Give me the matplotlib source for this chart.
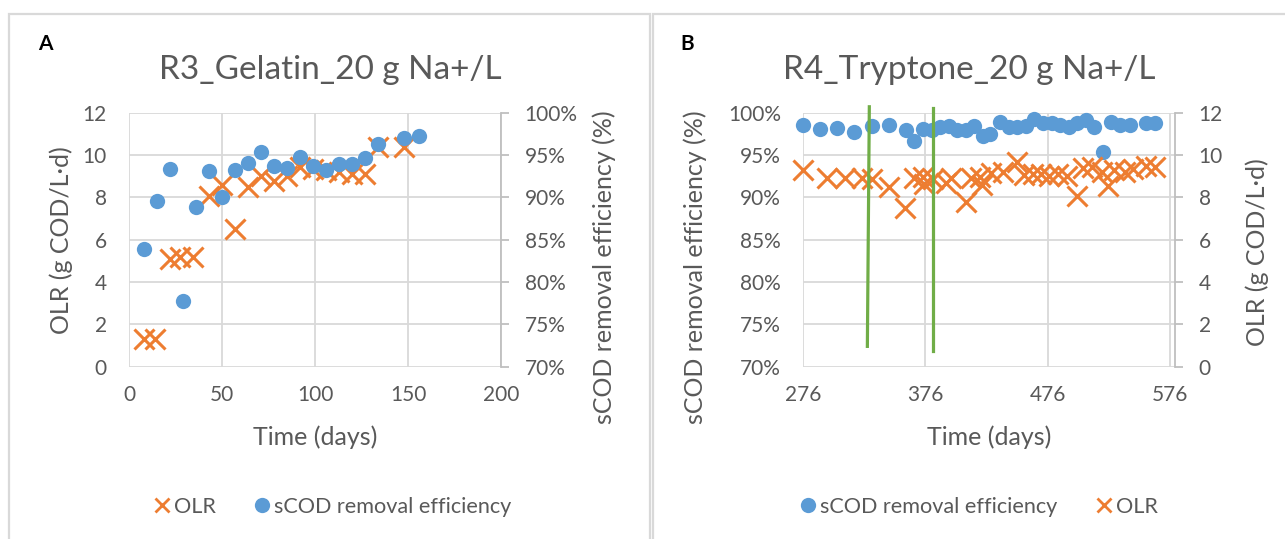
import matplotlib.pyplot as plt
from matplotlib.lines import Line2D
from matplotlib.patches import Rectangle
from matplotlib.ticker import FuncFormatter

# R3 gelatin reactor
r3_olr_days = [8, 14, 22, 27.5, 34.5, 43, 50, 57, 64, 71, 78, 85, 92, 99, 106, 113, 120, 127, 134, 148]
r3_olr = [1.3, 1.3, 5.1, 5.2, 5.2, 8.05, 8.6, 6.5, 8.5, 9.0, 8.75, 9.0, 9.45, 9.35, 9.3, 9.2, 9.1, 9.1, 10.4, 10.4]
r3_eff_days = [8, 15, 22, 29, 36, 43, 50, 57, 64, 71, 78, 85, 92, 99, 106, 113, 120, 127, 134, 148, 156]
r3_eff = [83.9, 89.6, 93.3, 77.8, 88.9, 93.1, 90.0, 93.2, 94.1, 95.3, 93.7, 93.5, 94.8, 93.7,
          93.2, 93.9, 93.9, 94.6, 96.3, 97.0, 97.3]

# R4 tryptone reactor
r4_eff_days = [276, 290, 304, 318, 332, 346, 360, 367, 374, 381.5, 388, 395, 402, 409, 416, 423,
               429, 437, 444, 451, 458, 465, 472, 479.5, 486, 493, 500, 507, 514, 521, 528,
               535, 543, 556, 564]
r4_eff = [98.55, 98.05, 98.25, 97.7, 98.45, 98.5, 97.95, 96.6, 98.05, 97.9, 98.35, 98.45, 97.95,
          97.95, 98.4, 97.3, 97.45, 98.95, 98.35, 98.3, 98.45, 99.2, 98.75, 98.8, 98.6, 98.35,
          98.8, 99.1, 98.3, 95.3, 98.95, 98.55, 98.6, 98.75, 98.75]
r4_olr_days = [276, 296, 310, 324, 332, 346, 359, 366.5, 374, 374.5, 382, 393, 397, 409, 413, 421,
               422.6, 430, 439.5, 451, 457, 464, 470.5, 477, 484, 492, 500, 505, 512, 520, 525,
               530, 539, 546, 556, 564]
r4_olr = [9.3, 8.9, 8.9, 8.9, 8.85, 8.5, 7.5, 8.9, 8.95, 8.65, 8.85, 8.7, 8.9, 7.8, 8.9, 8.95,
          8.6, 9.15, 9.2, 9.65, 9.05, 9.1, 9.1, 9.0, 9.1, 9.0, 8.05, 9.4, 9.45, 9.2, 8.55,
          9.3, 9.2, 9.35, 9.5, 9.45]

# green marker lines (day, efficiency %)
mark1_days = [330.2, 328.6]
mark2_days = [381.9, 381.9]
mark1_eff = [100.7, 72.4]
mark2_eff = [100.5, 71.9]

BLUE = '#5B9BD5'
ORANGE = '#ED7D31'
GREEN = '#70AD47'
TXT = '#595959'
GRID = '#D9D9D9'
AXIS = '#BFBFBF'

plt.rcParams['font.family'] = ['Lato', 'DejaVu Sans']
plt.rcParams['text.color'] = TXT

W, H = 1285, 539
fig = plt.figure(figsize=(12.85, 5.39), dpi=100)


def fx(px):
    return px / W


def fy(py):
    return 1 - py / H


# panel frames
for x0, x1 in [(9, 650), (653, 1300)]:
    fig.patches.append(Rectangle((fx(x0), fy(560)), fx(x1 - x0), fy(14) - fy(560),
                                 transform=fig.transFigure, fill=False,
                                 edgecolor=GRID, linewidth=1.6))

pct = FuncFormatter(lambda v, p: f'{v:.0f}%')
ax_w, ax_h = fx(372), 254 / H


def style(ax, ax2, xticks, xlim, left_ticks, right_ticks, left_fmt, right_fmt):
    for s in ax.spines.values():
        s.set_visible(False)
    for s in ax2.spines.values():
        s.set_visible(False)
    ax2.spines['right'].set_visible(True)
    ax2.spines['right'].set_color(AXIS)
    ax2.spines['right'].set_linewidth(1.3)
    ax.set_xlim(*xlim)
    ax.set_xticks(xticks)
    ax.set_ylim(left_ticks[0], left_ticks[-1])
    ax.set_yticks(left_ticks)
    ax2.set_ylim(right_ticks[0], right_ticks[-1])
    ax2.set_yticks(right_ticks)
    if left_fmt:
        ax.yaxis.set_major_formatter(left_fmt)
    if right_fmt:
        ax2.yaxis.set_major_formatter(right_fmt)
    ax.grid(True, color=GRID, linewidth=1.3)
    ax.set_axisbelow(True)
    ax.tick_params(axis='x', length=0, pad=13, labelsize=15, labelcolor=TXT)
    ax.tick_params(axis='y', length=0, pad=16, labelsize=15, labelcolor=TXT)
    ax2.tick_params(axis='y', length=6, width=1.3, color=AXIS, pad=11, labelsize=15, labelcolor=TXT)
    ax.set_xlabel('Time (days)', fontsize=18, color=TXT)
    ax.xaxis.set_label_coords(0.5, -0.277)
    ax.xaxis.label.set_va('center')


def ylab(ax, text, x, y):
    ax.set_ylabel(text, fontsize=18, color=TXT)
    ax.yaxis.set_label_coords(x, y)
    ax.yaxis.label.set_va('center')
    ax.yaxis.label.set_rotation_mode('anchor')


# ---- A: gelatin
axA = fig.add_axes([fx(129), fy(366.7), ax_w, ax_h])
axA2 = axA.twinx()
style(axA, axA2, [0, 50, 100, 150, 200], (0, 200), list(range(0, 13, 2)),
      [70, 75, 80, 85, 90, 95, 100], None, pct)
axA.plot(r3_olr_days, r3_olr, 'x', color=ORANGE, markersize=14, markeredgewidth=2.2, clip_on=False)
axA2.plot(r3_eff_days, r3_eff, 'o', color=BLUE, markersize=11, markeredgewidth=0, clip_on=False)
ylab(axA, 'OLR (g COD/L·d)', (61 - 129) / 372, 0.5)
ylab(axA2, 'sCOD removal efficiency (%)', (604 - 129) / 372, 0.39)

# ---- B: tryptone
axB = fig.add_axes([fx(803), fy(366.7), ax_w, ax_h])
axB2 = axB.twinx()
style(axB, axB2, [276, 376, 476, 576], (276, 580), [70, 75, 80, 85, 90, 95, 100],
      list(range(0, 13, 2)), pct, None)
axB.plot(r4_eff_days, r4_eff, 'o', color=BLUE, markersize=11, markeredgewidth=0, clip_on=False)
axB2.plot(r4_olr_days, r4_olr, 'x', color=ORANGE, markersize=14, markeredgewidth=2.2, clip_on=False)
for xs, ys in [(mark1_days, mark1_eff), (mark2_days, mark2_eff)]:
    axB2.plot(xs, ys, color=GREEN, linewidth=2.3, transform=axB.transData, clip_on=False)
ylab(axB, 'sCOD removal efficiency (%)', (695 - 803) / 372, 0.39)
ylab(axB2, 'OLR (g COD/L·d)', (1257 - 803) / 372, 0.45)

# titles and panel letters
fig.text(fx(330), fy(79), 'R3_Gelatin_20 g Na+/L', fontsize=24, ha='center', va='baseline', color=TXT)
fig.text(fx(969), fy(79), 'R4_Tryptone_20 g Na+/L', fontsize=24, ha='center', va='baseline', color=TXT)
fig.text(fx(45), fy(50), 'A', fontsize=15, fontweight='bold', ha='center', va='baseline', color='black')
fig.text(fx(687), fy(50), 'B', fontsize=15, fontweight='bold', ha='center', va='baseline', color='black')

# legends
h_olr = Line2D([], [], ls='none', marker='x', color=ORANGE, markersize=10, markeredgewidth=2)
h_eff = Line2D([], [], ls='none', marker='o', color=BLUE, markersize=11, markeredgewidth=0)
leg_kw = dict(loc='center', ncol=2, frameon=False, fontsize=15.6, handlelength=0.7,
              handletextpad=0.2, columnspacing=1.8, labelcolor=TXT)
fig.legend([h_olr, h_eff], ['OLR', 'sCOD removal efficiency'],
           bbox_to_anchor=(fx(333), fy(507)), **leg_kw)
fig.legend([h_eff, h_olr], ['sCOD removal efficiency', 'OLR'],
           bbox_to_anchor=(fx(979), fy(507)), **leg_kw)

plt.savefig('out.png', dpi=100, facecolor='white')
plt.close()
